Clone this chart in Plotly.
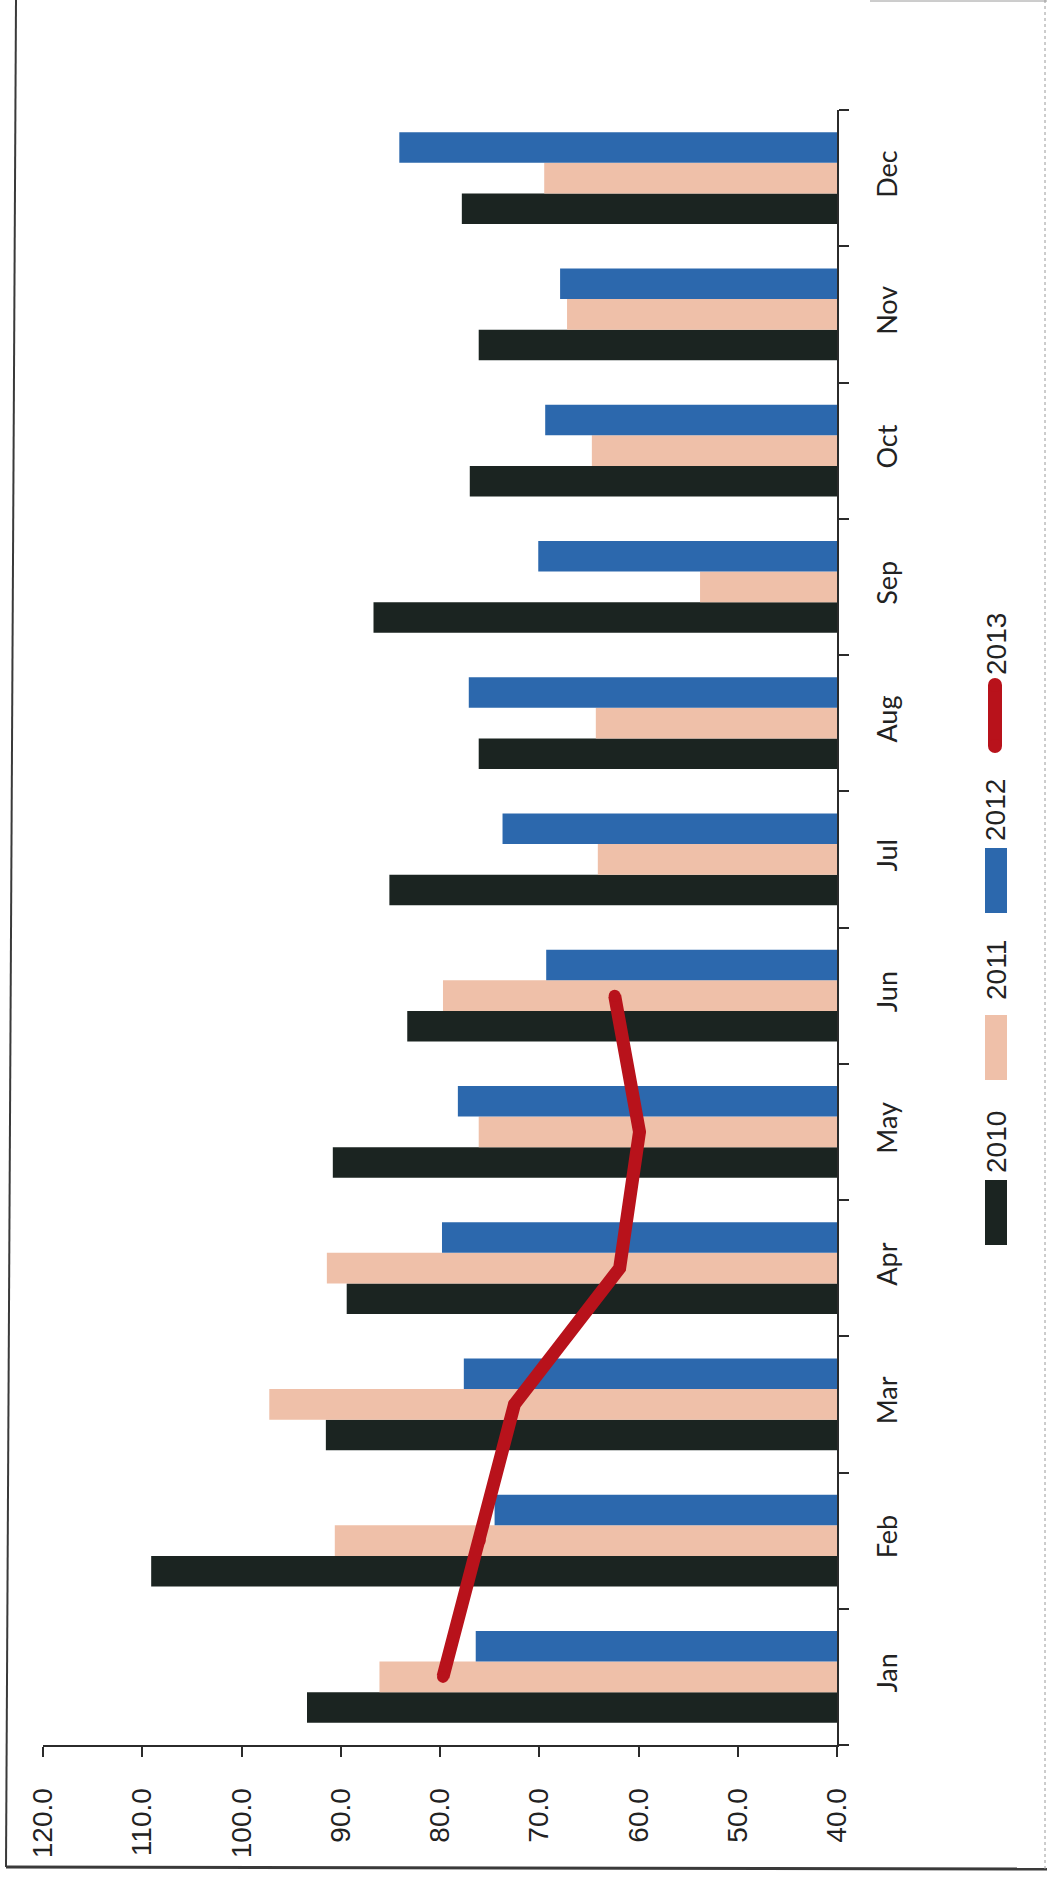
import plotly.graph_objects as go

# Monthly index values by year
months = ["Jan", "Feb", "Mar", "Apr", "May", "Jun",
          "Jul", "Aug", "Sep", "Oct", "Nov", "Dec"]
y2010 = [93.4, 109.1, 91.5, 89.4, 90.8, 83.3, 85.1, 76.1, 86.7, 77.0, 76.1, 77.8]
y2011 = [86.1, 90.6, 97.2, 91.4, 76.1, 79.7, 64.1, 64.3, 53.8, 64.7, 67.2, 69.5]
y2012 = [76.4, 74.5, 77.6, 79.8, 78.2, 69.3, 73.7, 77.1, 70.1, 69.4, 67.9, 84.1]
y2013 = [79.7, 76.0, 72.5, 61.9, 59.9, 62.4]
value_ticks = [40, 50, 60, 70, 80, 90, 100, 110, 120]
series_names = ["2010", "2011", "2012", "2013"]

colors = {"2010": "#1b2421", "2011": "#efc0a9", "2012": "#2c68ad", "2013": "#b8121b"}

W, H = 1047, 1877
ML, MR, MT, MB = 43, 210, 110, 132
PW, PH = W - ML - MR, H - MT - MB


def px(x):
    return (x - ML) / PW


def py(y):
    return (H - MB - y) / PH


fig = go.Figure()
for name, vals in zip(series_names[:3], [y2010, y2011, y2012]):
    fig.add_trace(go.Bar(
        x=vals, y=months, orientation="h", name=name,
        marker=dict(color=colors[name], line=dict(width=0)),
        showlegend=False,
    ))

fig.add_trace(go.Scatter(
    x=y2013, y=months[:len(y2013)], mode="lines+markers", name="2013",
    line=dict(color=colors["2013"], width=13),
    marker=dict(color=colors["2013"], size=12, line=dict(width=0)),
    showlegend=False,
))

axis_color = "#2b2b2b"
fig.update_layout(
    width=W, height=H,
    margin=dict(l=ML, r=MR, t=MT, b=MB, pad=0, autoexpand=False),
    paper_bgcolor="white", plot_bgcolor="white",
    barmode="group", bargap=0.325, bargroupgap=0,
    xaxis=dict(
        range=[120, 40], tickvals=value_ticks,
        ticktext=[f"{v:.1f}" for v in value_ticks],
        tickangle=-90, ticks="outside", ticklen=10, tickwidth=2,
        tickcolor=axis_color, showline=True, linecolor=axis_color, linewidth=2,
        showgrid=False, zeroline=False, ticklabelstandoff=20, automargin=False,
        tickfont=dict(family="Liberation Sans", size=28, color="#222222"),
    ),
    yaxis=dict(
        side="right", categoryorder="array", categoryarray=months,
        range=[-0.5, len(months) - 0.5],
        tickangle=-90, ticks="outside", ticklen=10, tickwidth=2,
        tickson="boundaries", tickcolor=axis_color,
        showline=True, linecolor=axis_color, linewidth=2,
        showgrid=False, zeroline=False, ticklabelstandoff=26, automargin=False,
        tickfont=dict(family="Lato", size=27, color="#222222"),
    ),
)

shapes = []
# Legend swatches (drawn rotated alongside the category axis)
legend_boxes = {"2010": (1180, 1245), "2011": (1015, 1080), "2012": (848, 913)}
for name, (ya, yb) in legend_boxes.items():
    shapes.append(dict(type="rect", xref="paper", yref="paper",
                       x0=px(985), x1=px(1007), y0=py(yb), y1=py(ya),
                       fillcolor=colors[name], line=dict(width=0)))
# Line swatch with rounded ends
shapes.append(dict(type="rect", xref="paper", yref="paper",
                   x0=px(988), x1=px(1002), y0=py(746), y1=py(685),
                   fillcolor=colors["2013"], line=dict(width=0)))
for cy in (685, 746):
    shapes.append(dict(type="circle", xref="paper", yref="paper",
                       x0=px(988), x1=px(1002), y0=py(cy + 7), y1=py(cy - 7),
                       fillcolor=colors["2013"], line=dict(width=0)))

# Chart frame
shapes.append(dict(type="line", xref="paper", yref="paper",
                   x0=px(16), y0=py(0), x1=px(6), y1=py(1867),
                   line=dict(color="#3a3a3a", width=2)))
shapes.append(dict(type="line", xref="paper", yref="paper",
                   x0=px(6), y0=py(1867), x1=px(1047), y1=py(1869),
                   line=dict(color="#3a3a3a", width=3)))
shapes.append(dict(type="line", xref="paper", yref="paper",
                   x0=px(1045), y0=py(0), x1=px(1045), y1=py(1869),
                   line=dict(color="#9a9a9a", width=1, dash="dot")))
shapes.append(dict(type="line", xref="paper", yref="paper",
                   x0=px(870), y0=py(1), x1=px(1047), y1=py(1),
                   line=dict(color="#9a9a9a", width=1)))
fig.update_layout(shapes=shapes)

legend_text_y = {"2010": 1142, "2011": 970, "2012": 810, "2013": 644}
for name, cy in legend_text_y.items():
    fig.add_annotation(
        x=px(996), y=py(cy), xref="paper", yref="paper",
        text=name, showarrow=False, textangle=-90,
        xanchor="center", yanchor="middle",
        font=dict(family="Liberation Sans", size=28, color="#222222"),
    )

fig.write_html("out.html")
